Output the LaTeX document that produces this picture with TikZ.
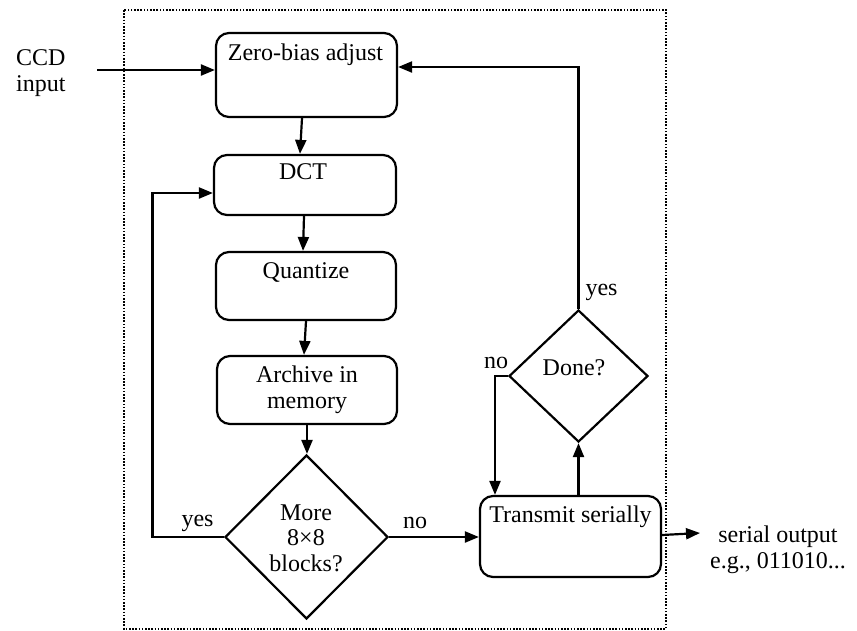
\documentclass[tikz,border=0pt]{standalone}
\usepackage{fontspec}
\setmainfont{Liberation Serif}
\usetikzlibrary{arrows.meta,shapes.geometric}
\begin{document}
\begin{tikzpicture}[x=1pt,y=-1pt,
  font=\fontsize{24}{25.5}\selectfont,
  box/.style={draw, line width=2.2pt, rounded corners=13pt, inner sep=0pt},
  decision/.style={draw, diamond, line width=2.2pt, inner sep=0pt},
  txt/.style={inner sep=0pt, anchor=base, align=center},
  flow/.style={line width=2.2pt, -{Triangle[length=14pt,width=11pt]}},
  frame/.style={line width=1.6pt, dash pattern=on 1.6pt off 1.6pt}]
\useasboundingbox (0,0) rectangle (857,630);

% dotted system boundary
\draw[frame] (124,10) rectangle (666,629);

% process boxes
\node[box, minimum width=181pt, minimum height=84pt] (zba)   at (306.5,75) {};
\node[box, minimum width=182pt, minimum height=60pt] (dct)   at (305,185) {};
\node[box, minimum width=180pt, minimum height=68pt] (quant) at (306,286) {};
\node[box, minimum width=180pt, minimum height=68pt] (arch)  at (307,390) {};
\node[box, minimum width=181pt, minimum height=81pt] (trans) at (570.5,536.5) {};

% decisions
\node[decision, minimum width=163pt, minimum height=164pt] (more) at (306.5,537) {};
\node[decision, minimum width=139pt, minimum height=132pt] (done) at (578.5,376) {};

% box texts (multi-line nodes sit on the baseline of their last line)
\node[txt] (zbaT)   at (305.5,60)  {Zero-bias adjust};
\node[txt] (dctT)   at (303,179)   {DCT};
\node[txt] (quantT) at (306,278)   {Quantize};
\node[txt] (archT)  at (307,408)   {Archive in\\memory};
\node[txt] (transT) at (570.5,522) {Transmit serially};
\node[txt] (moreT)  at (306,571)   {More\\8×8\\blocks?};
\node[txt] (doneT)  at (574,375)   {Done?};

% outside texts
\node[txt, anchor=base west, align=left] (ccd) at (16,91) {CCD\\input};
\node[txt] (outT) at (778,568) {serial output\\e.g., 011010...};

% branch labels
\node[txt] (moreYes) at (197.5,526) {yes};
\node[txt] (moreNo)  at (415,528)   {no};
\node[txt] (doneYes) at (601.5,295) {yes};
\node[txt] (doneNo)  at (496,368)   {no};

% connectors
\coordinate (ccdin) at (97,70);
\draw[flow] (ccdin) -- (ccdin -| zba.west);
\draw[flow] ([xshift=-4.5pt]zba.south) -- ([xshift=-5pt]dct.north);
\draw[flow] ([xshift=-1pt]dct.south) -- ([xshift=-3pt]quant.north);
\draw[flow] (quant.south) -- ([xshift=-3pt]arch.north);
\draw[flow] (arch.south) -- (arch.south |- more.north);
\draw[flow] (more.west) -- ++(-71.5,0) |- ([yshift=-8pt]dct.west);
\draw[flow] (more.east) -- (more.east -| trans.west);
\draw[flow] (trans.north -| done.south) -- (done.south);
\draw[flow] (done.west) -| ([xshift=-75.5pt]trans.north);
\draw[flow] (done.north) |- ([yshift=8pt]zba.east);
\coordinate (serialout) at (700,533);
\draw[flow] ([yshift=1.5pt]trans.east) -- (serialout);
\end{tikzpicture}
\end{document}
